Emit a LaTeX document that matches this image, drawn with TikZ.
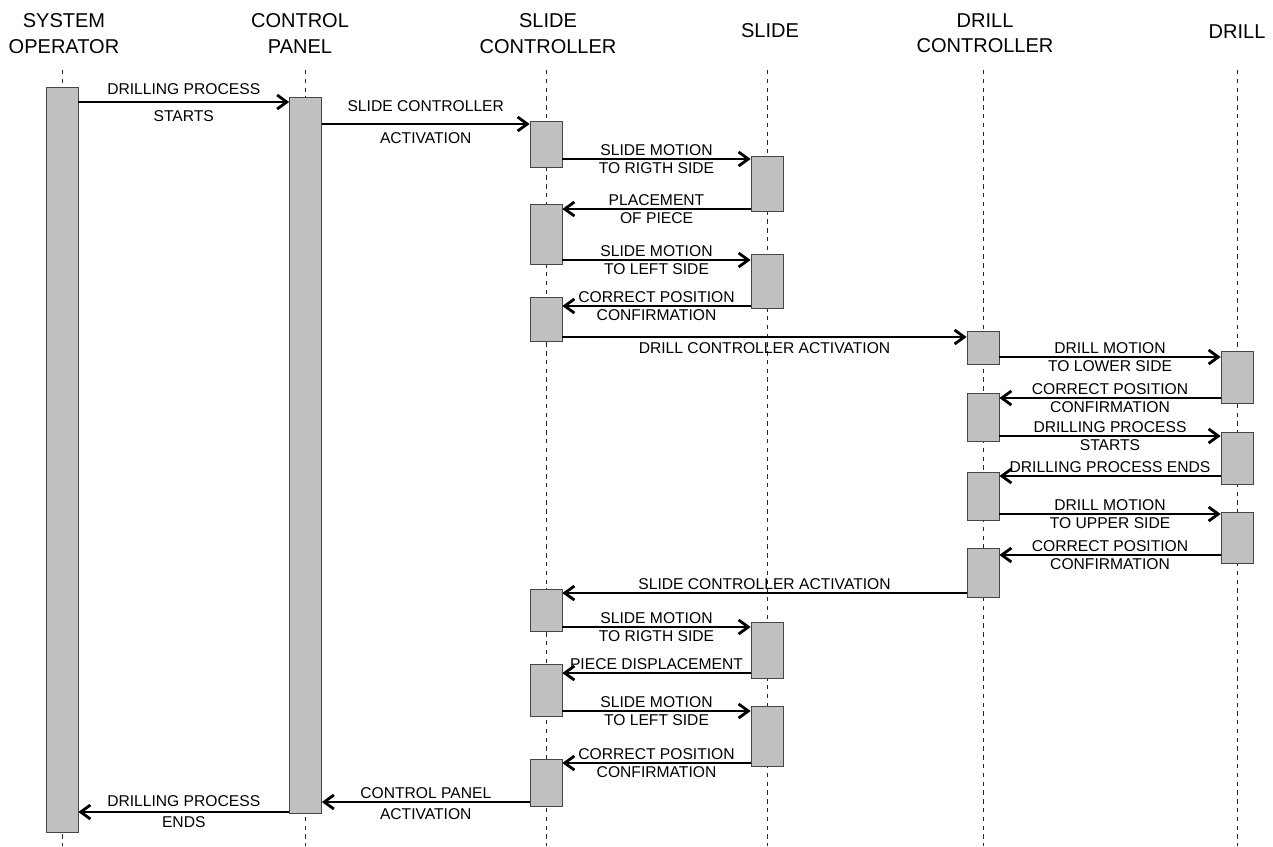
\documentclass[tikz,border=0pt]{standalone}
\usepackage{fontspec}
\setmainfont{Liberation Sans}
\usetikzlibrary{arrows.meta,positioning}
\definecolor{boxgray}{RGB}{192,192,192}
\definecolor{boxline}{RGB}{70,70,70}

\begin{document}
\begin{tikzpicture}[
x=0.02cm, y=-0.02cm,
>={Straight Barb[length=5.5pt,width=8pt]},
every node/.style={font=\fontsize{8.9}{10}\selectfont},
title/.style={font=\fontsize{11.4}{14.4}\selectfont, align=center, inner sep=0pt},
life/.style={draw, thin, black!85, dash pattern=on 2.5pt off 2.5pt},
act/.style={
    draw=boxline,
    fill=boxgray,
    anchor=north,
    minimum width=0.64cm,
    inner sep=0pt
},
msg/.style={->, line width=1.6pt},
lbl/.style={inner sep=1pt}
]

\useasboundingbox (0,0) rectangle (1273,846);

% =====================================================
% Lifelines
% =====================================================

\foreach \name/\x/\y/\txt in {
so/64/33.5/{SYSTEM\\OPERATOR},
cp/300/33.5/{CONTROL\\PANEL},
sc/548/33.5/{SLIDE\\CONTROLLER},
sl/770/31/{SLIDE},
dc/985/33.5/{DRILL\\CONTROLLER},
dr/1237/32/{DRILL}}{
\node[title] (t\name) at (\x,\y) {\txt};
}

\foreach \x in {62,305.5,546,767,983,1237}{
\draw[life] (\x,70) -- (\x,846);
}

% =====================================================
% Activation boxes
% =====================================================

% System operator, control panel
\node[act, minimum height=745*0.02cm] (so1) at (62,87) {};
\node[act, minimum height=716*0.02cm] (cp1) at (305.5,97) {};

% Slide controller
\node[act, minimum height=46*0.02cm] (sc1) at (546,121) {};
\node[act, minimum height=60*0.02cm] (sc2) at (546,204) {};
\node[act, minimum height=44*0.02cm] (sc3) at (546,297) {};
\node[act, minimum height=42*0.02cm] (sc4) at (546,589) {};
\node[act, minimum height=52*0.02cm] (sc5) at (546,664) {};
\node[act, minimum height=47*0.02cm] (sc6) at (546,759) {};

% Slide
\node[act, minimum height=55*0.02cm] (sl1) at (767,156) {};
\node[act, minimum height=54*0.02cm] (sl2) at (767,254) {};
\node[act, minimum height=56*0.02cm] (sl3) at (767,622) {};
\node[act, minimum height=60*0.02cm] (sl4) at (767,706) {};

% Drill controller
\node[act, minimum height=33*0.02cm] (dc1) at (983,331) {};
\node[act, minimum height=48*0.02cm] (dc2) at (983,393) {};
\node[act, minimum height=48*0.02cm] (dc3) at (983,472) {};
\node[act, minimum height=49*0.02cm] (dc4) at (983,548) {};

% Drill
\node[act, minimum height=52*0.02cm] (dr1) at (1237,351) {};
\node[act, minimum height=52*0.02cm] (dr2) at (1237,432) {};
\node[act, minimum height=51*0.02cm] (dr3) at (1237,512) {};

% =====================================================
% Messages
% =====================================================

\draw[msg] (so1.east |- 0,102) -- node[lbl, above=2.6pt] (m1a) {DRILLING PROCESS}
    node[lbl, below=3.2pt] (m1b) {STARTS} (cp1.west |- 0,102);
\draw[msg] (cp1.east |- 0,124) -- node[lbl, above=5.3pt] (m2a) {SLIDE CONTROLLER}
    node[lbl, below=3.2pt] (m2b) {ACTIVATION} (sc1.west |- 0,124);
\draw[msg] (sc1.east |- 0,159) -- node[lbl, above] (m3a) {SLIDE MOTION}
    node[lbl, below] (m3b) {TO RIGTH SIDE} (sl1.west |- 0,159);
\draw[msg] (sl1.west |- 0,209) -- node[lbl, above] (m4a) {PLACEMENT}
    node[lbl, below] (m4b) {OF PIECE} (sc2.east |- 0,209);
\draw[msg] (sc2.east |- 0,260) -- node[lbl, above] (m5a) {SLIDE MOTION}
    node[lbl, below] (m5b) {TO LEFT SIDE} (sl2.west |- 0,260);
\draw[msg] (sl2.west |- 0,306) -- node[lbl, above] (m6a) {CORRECT POSITION}
    node[lbl, below] (m6b) {CONFIRMATION} (sc3.east |- 0,306);
\draw[msg] (sc3.east |- 0,337) -- node[lbl, below=1.5pt] (m7) {DRILL CONTROLLER ACTIVATION}
    (dc1.west |- 0,337);

\draw[msg] (dc1.east |- 0,357) -- node[lbl, above] (m8a) {DRILL MOTION}
    node[lbl, below] (m8b) {TO LOWER SIDE} (dr1.west |- 0,357);
\draw[msg] (dr1.west |- 0,398) -- node[lbl, above] (m9a) {CORRECT POSITION}
    node[lbl, below] (m9b) {CONFIRMATION} (dc2.east |- 0,398);
\draw[msg] (dc2.east |- 0,436) -- node[lbl, above] (m10a) {DRILLING PROCESS}
    node[lbl, below] (m10b) {STARTS} (dr2.west |- 0,436);
\draw[msg] (dr2.west |- 0,476) -- node[lbl, above] (m11) {DRILLING PROCESS ENDS}
    (dc3.east |- 0,476);
\draw[msg] (dc3.east |- 0,514) -- node[lbl, above] (m12a) {DRILL MOTION}
    node[lbl, below] (m12b) {TO UPPER SIDE} (dr3.west |- 0,514);
\draw[msg] (dr3.west |- 0,555) -- node[lbl, above] (m13a) {CORRECT POSITION}
    node[lbl, below] (m13b) {CONFIRMATION} (dc4.east |- 0,555);
\draw[msg] (dc4.west |- 0,593) -- node[lbl, above] (m14) {SLIDE CONTROLLER ACTIVATION}
    (sc4.east |- 0,593);

\draw[msg] (sc4.east |- 0,627) -- node[lbl, above] (m15a) {SLIDE MOTION}
    node[lbl, below] (m15b) {TO RIGTH SIDE} (sl3.west |- 0,627);
\draw[msg] (sl3.west |- 0,673) -- node[lbl, above] (m16) {PIECE DISPLACEMENT}
    (sc5.east |- 0,673);
\draw[msg] (sc5.east |- 0,711) -- node[lbl, above] (m17a) {SLIDE MOTION}
    node[lbl, below] (m17b) {TO LEFT SIDE} (sl4.west |- 0,711);
\draw[msg] (sl4.west |- 0,763) -- node[lbl, above] (m18a) {CORRECT POSITION}
    node[lbl, below] (m18b) {CONFIRMATION} (sc6.east |- 0,763);
\draw[msg] (sc6.west |- 0,802) -- node[lbl, above=0.4pt] (m19a) {CONTROL PANEL}
    node[lbl, below=2pt] (m19b) {ACTIVATION} (cp1.east |- 0,802);
\draw[msg] (cp1.west |- 0,812) -- node[lbl, above=1.2pt] (m20a) {DRILLING PROCESS}
    node[lbl, below=1pt] (m20b) {ENDS} (so1.east |- 0,812);

\end{tikzpicture}
\end{document}
